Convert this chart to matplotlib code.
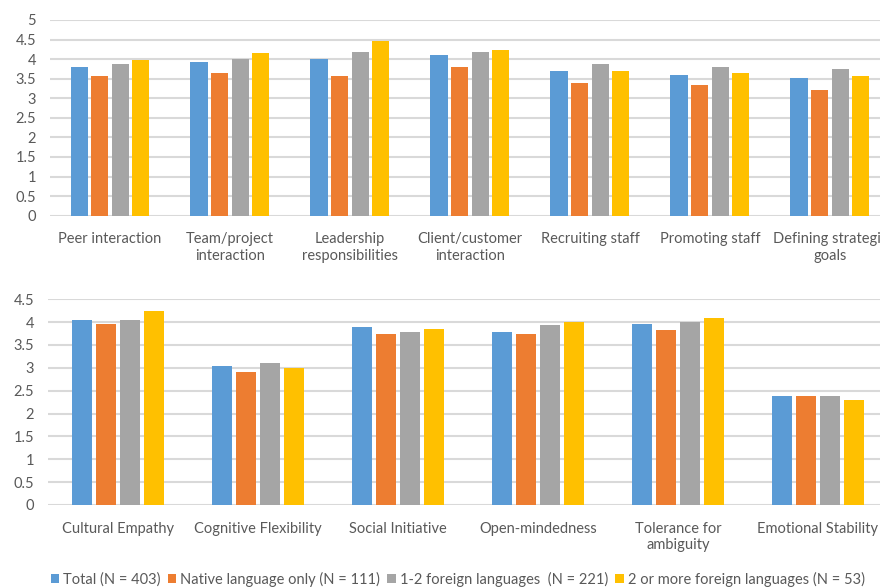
import numpy as np
import matplotlib
matplotlib.use("Agg")
import matplotlib.pyplot as plt

plt.rcParams["font.family"] = ["Lato", "DejaVu Sans"]

series = ["Total (N = 403)", "Native language only (N = 111)",
          "1-2 foreign languages  (N = 221)", "2 or more foreign languages (N = 53)"]
colors = ["#5B9BD5", "#ED7D31", "#A5A5A5", "#FFC000"]

# upper panel: work situations
work_cats = ["Peer interaction", "Team/project\ninteraction", "Leadership\nresponsibilities",
             "Client/customer\ninteraction", "Recruiting staff", "Promoting staff",
             "Defining strategic\ngoals"]
work_total = [3.79, 3.93, 4.01, 4.11, 3.70, 3.60, 3.52]
work_native = [3.56, 3.65, 3.56, 3.79, 3.38, 3.33, 3.20]
work_12 = [3.88, 4.01, 4.19, 4.19, 3.88, 3.79, 3.74]
work_2plus = [3.98, 4.16, 4.47, 4.24, 3.70, 3.65, 3.56]

# lower panel: intercultural traits
trait_cats = ["Cultural Empathy", "Cognitive Flexibility", "Social Initiative",
              "Open-mindedness", "Tolerance for\nambiguity", "Emotional Stability"]
trait_total = [4.05, 3.04, 3.89, 3.78, 3.97, 2.38]
trait_native = [3.97, 2.92, 3.74, 3.74, 3.82, 2.38]
trait_12 = [4.05, 3.11, 3.78, 3.94, 4.01, 2.38]
trait_2plus = [4.24, 3.00, 3.86, 4.01, 4.09, 2.30]

TXT = "#595959"
GRID = "#D9D9D9"


def grouped(ax, cats, groups, ymax):
    x = np.arange(len(cats))
    slot, w = 0.171, 0.145
    for i, (vals, c, lab) in enumerate(zip(groups, colors, series)):
        ax.bar(x + (i - 1.5) * slot, vals, w, color=c, label=lab, zorder=3)
    ax.set_xlim(-0.5, len(cats) - 0.5)
    ax.set_ylim(0, ymax)
    ticks = np.arange(0, ymax + 0.01, 0.5)
    ax.set_yticks(ticks)
    ax.set_yticklabels([f"{v:g}" for v in ticks])
    ax.set_xticks(x)
    ax.set_xticklabels(cats, linespacing=1.2)
    ax.grid(axis="y", color=GRID, lw=1.5, zorder=0)
    for s in ax.spines.values():
        s.set_visible(False)
    ax.tick_params(length=0, labelsize=10.5, colors=TXT)
    ax.tick_params(axis="x", pad=12)
    ax.tick_params(axis="y", pad=10)
    ax.set_axisbelow(True)


fig = plt.figure(figsize=(8.8, 5.88), dpi=100)
ax1 = fig.add_axes([0.0568, 0.6332, 0.9545, 0.3328])
grouped(ax1, work_cats, [work_total, work_native, work_12, work_2plus], 5)
ax2 = fig.add_axes([0.0545, 0.1412, 0.9545, 0.3498])
grouped(ax2, trait_cats, [trait_total, trait_native, trait_12, trait_2plus], 4.5)

fig.legend(*ax2.get_legend_handles_labels(), loc="center", ncol=4,
           bbox_to_anchor=(0.52, 0.015), frameon=False, fontsize=10.5,
           labelcolor=TXT, handlelength=0.6, handleheight=0.6,
           handletextpad=0.25, columnspacing=0.5)

fig.savefig("out.png", dpi=100)
